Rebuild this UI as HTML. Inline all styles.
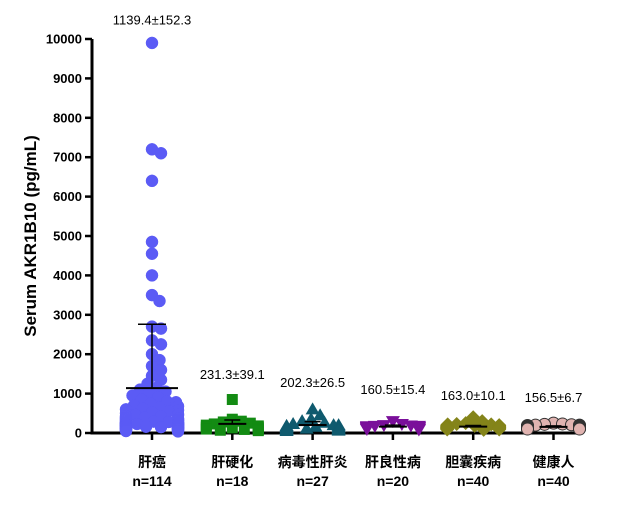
<!DOCTYPE html>
<html><head><meta charset="utf-8"><style>
body{margin:0;background:#fff}
svg text{font-family:"Liberation Sans","Noto Sans CJK SC",sans-serif}
</style></head><body>
<svg id="c" width="618" height="503" xmlns="http://www.w3.org/2000/svg"></svg>
<script>
const categories=["肝癌","肝硬化","病毒性肝炎","肝良性病","胆囊疾病","健康人"];
const counts=["n=114","n=18","n=27","n=20","n=40","n=40"];
const meanLabels=["1139.4±152.3","231.3±39.1","202.3±26.5","160.5±15.4","163.0±10.1","156.5±6.7"];
const means=[1139.4,231.3,202.3,160.5,163.0,156.5];
const sdUpper=[2760,330,290,200,190,180];
const labelValues=[10480,1485,1282,1104,952,901];
const yTicks=[0,1000,2000,3000,4000,5000,6000,7000,8000,9000,10000];
const g0=[9900,7200,7100,6400,4850,4550,4000,3500,3350,2700,2650,2350,2250,2000,1850,1700,1600,1450,1350,1250,1150,1100,1050,1000,950,900,850,800,780,750,700,680,650,620,600,580,550,520,500,480,460,450,430,420,400,390,380,370,360,350,340,330,320,310,300,290,280,270,260,250,250,240,230,220,210,200,200,190,180,170,160,150,150,140,130,120,110,100,100,90,80,70,60,50,50,40,300,280,260,240,220,200,180,160,140,120,100,180,160,140,120,220,200,240,260,150,130,110,90,170,190,210,230,250];
const g1=[850,350,300,280,250,230,200,180,150,150,130,120,100,100,90,80,70,60];
const g2=[600,450,350,300,260,230,200,180,170,160,150,140,130,120,110,100,100,90,80,70,60,50,150,180,200,120,90];
const g3=[300,230,200,190,180,170,160,150,150,140,140,130,120,110,100,100,90,180,160,140];
const g4=[400,300,250,230,220,200,190,180,170,160,160,150,150,140,140,130,130,120,120,110,110,100,100,90,90,80,200,180,160,140,220,170,150,130,120,190,160,140,110,100];
const g5=[250,230,220,210,200,190,180,170,170,160,160,150,150,150,140,140,130,130,120,120,110,110,100,100,180,170,160,150,140,130,200,190,170,150,130,120,160,150,140,130];
const groups=[g0,g1,g2,g3,g4,g5];
const colors=["#5b5bf5","#138b13","#0f5a6e","#7a0f9a","#84841a","#e0b3b0"];
const shapes=["circle","square","tri","dtri","diamond","circle"];
const NS="http://www.w3.org/2000/svg";
const svg=document.getElementById("c");
function el(t,a,p){const e=document.createElementNS(NS,t);for(const k in a)e.setAttribute(k,a[k]);(p||svg).appendChild(e);return e;}
const y=v=>433-v*0.0394;
const x=i=>152+i*80.3;
const ax=el("g",{});
el("line",{x1:92,y1:39,x2:92,y2:434.5,stroke:"#000","stroke-width":3},ax);
el("line",{x1:90.5,y1:433,x2:582,y2:433,stroke:"#000","stroke-width":3},ax);
yTicks.forEach(t=>{el("line",{x1:85,x2:92,y1:y(t),y2:y(t),stroke:"#000","stroke-width":2.5},ax);
 const tx=el("text",{x:82,y:y(t)+4.5,"text-anchor":"end","font-size":13,"font-weight":"bold"},ax);tx.textContent=t;
 });
const yt=el("text",{transform:"translate(36,236) rotate(-90)","text-anchor":"middle","font-size":17,"font-weight":"bold"});
yt.textContent="Serum AKR1B10 (pg/mL)";
function mark(sh,cx,cy,c,p){const r=6;let e;
 if(sh=="circle")e=el("circle",{cx,cy,r,fill:c,stroke:c==="#e0b3b0"?"#333":c,"stroke-width":c==="#e0b3b0"?1:0.5},p);
 else if(sh=="square")e=el("rect",{x:cx-5.5,y:cy-5.5,width:11,height:11,fill:c},p);
 else if(sh=="tri")e=el("polygon",{points:`${cx},${cy-7} ${cx+7},${cy+5} ${cx-7},${cy+5}`,fill:c},p);
 else if(sh=="dtri")e=el("polygon",{points:`${cx},${cy+7} ${cx+7},${cy-5} ${cx-7},${cy-5}`,fill:c},p);
 else e=el("polygon",{points:`${cx},${cy-7} ${cx+7},${cy} ${cx},${cy+7} ${cx-7},${cy}`,fill:c},p);
 }
groups.forEach((vals,i)=>{
 const g=el("g",{});
 const cx0=x(i);const placed=[];const d=i==0?9:8.5;
 [...vals].sort((a,b)=>b-a).forEach(v=>{const py=y(v);let dx=0,ok=false;
  for(let s=0;s<60&&!ok;s++){for(const sg of [1,-1]){const tx=sg*s*1.5;
    if(Math.abs(tx)>26)continue;
    if(placed.every(p=>Math.hypot(p[0]-tx,p[1]-py)>=d)){dx=tx;ok=true;break;}}}
  if(!ok)dx=(placed.length%2?1:-1)*26;
  placed.push([dx,py]);});
 placed.forEach(p=>mark(shapes[i],cx0+p[0],p[1],colors[i],g));
 const mw=i==0?26:14,sw=i==0?14:8;
 el("line",{x1:cx0-mw,x2:cx0+mw,y1:y(means[i]),y2:y(means[i]),stroke:"#000","stroke-width":2},g);
 el("line",{x1:cx0,x2:cx0,y1:y(means[i]),y2:y(sdUpper[i]),stroke:"#000","stroke-width":1.5},g);
 el("line",{x1:cx0-sw,x2:cx0+sw,y1:y(sdUpper[i]),y2:y(sdUpper[i]),stroke:"#000","stroke-width":1.5},g);
 el("line",{x1:cx0,x2:cx0,y1:433,y2:440,stroke:"#000","stroke-width":2.5},ax);
 const ml=el("text",{x:cx0,y:y(labelValues[i])+4.5,"text-anchor":"middle","font-size":13});ml.textContent=meanLabels[i];
 
 const cl=el("text",{x:cx0,y:467,"text-anchor":"middle","font-size":14,"font-weight":"bold"});cl.textContent=categories[i];
 
 const nl=el("text",{x:cx0,y:486,"text-anchor":"middle","font-size":14,"font-weight":"bold"});nl.textContent=counts[i];
 
});
</script></body></html>
